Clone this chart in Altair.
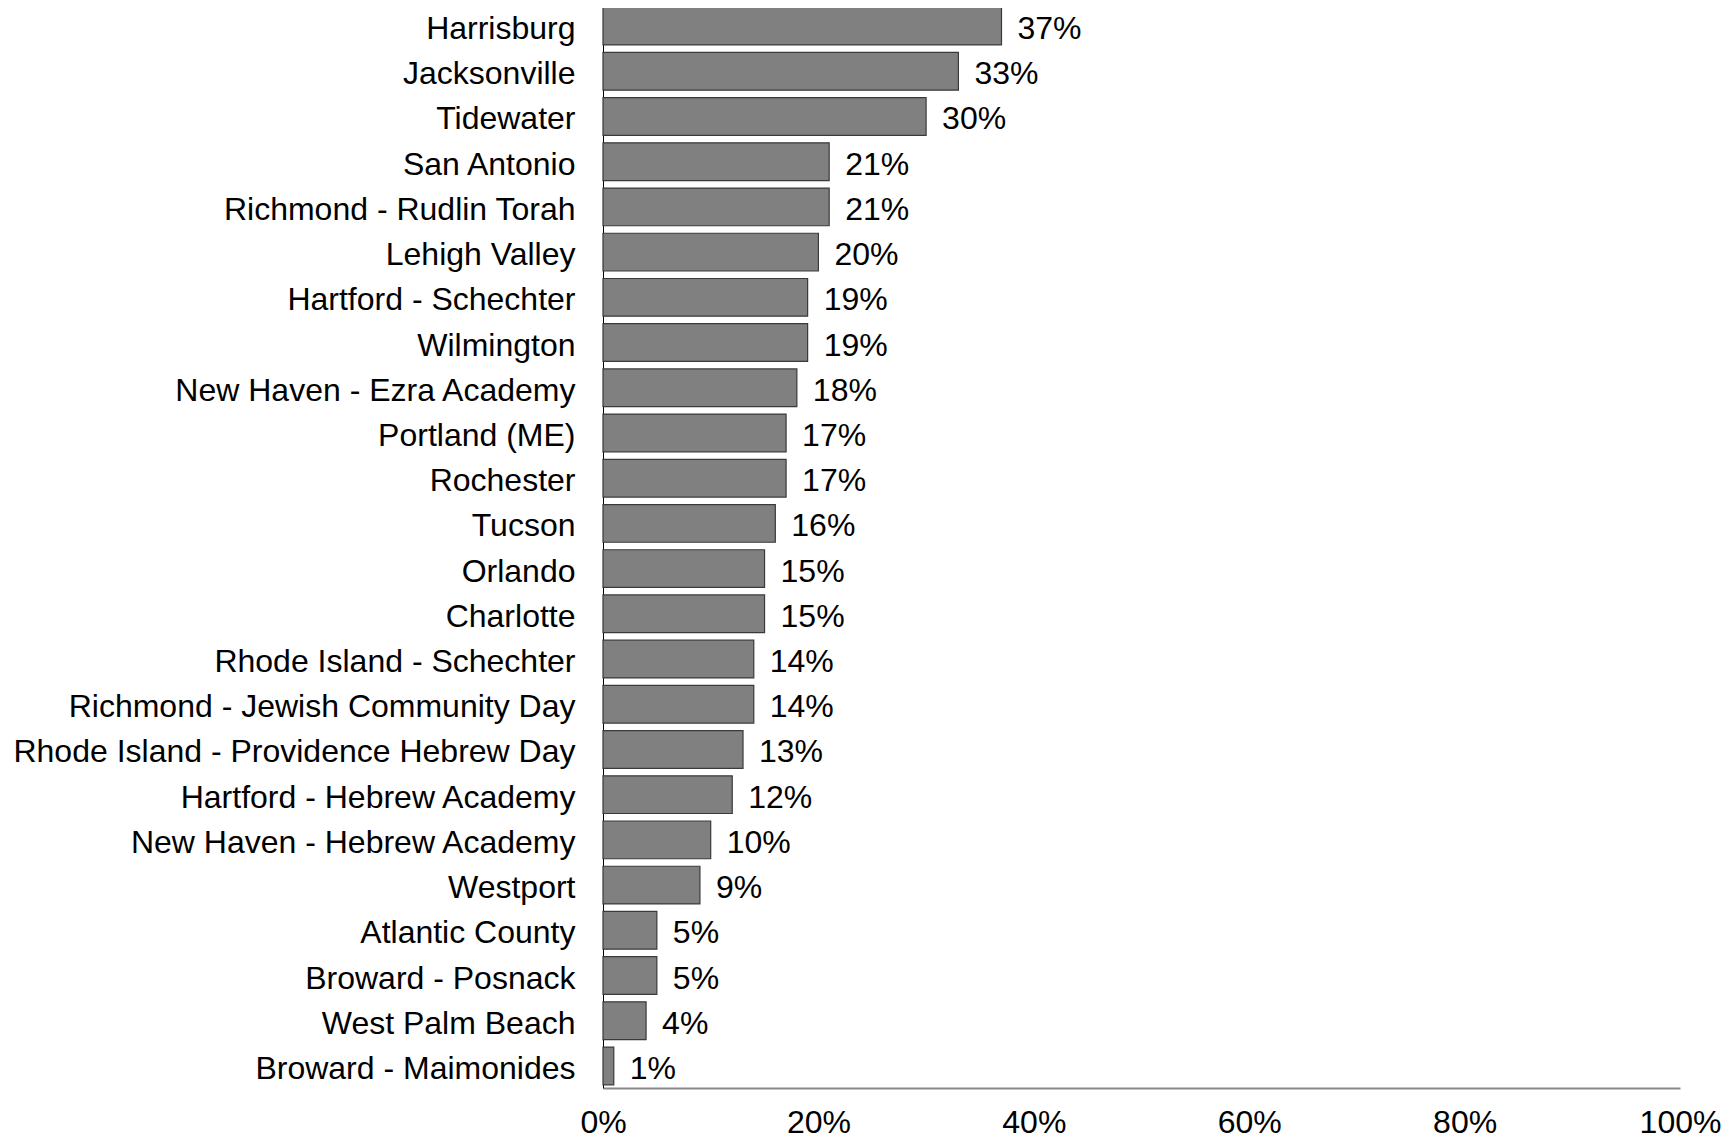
import altair as alt
import pandas as pd

schools = [
    "Harrisburg", "Jacksonville", "Tidewater", "San Antonio",
    "Richmond - Rudlin Torah", "Lehigh Valley", "Hartford - Schechter",
    "Wilmington", "New Haven - Ezra Academy", "Portland (ME)", "Rochester",
    "Tucson", "Orlando", "Charlotte", "Rhode Island - Schechter",
    "Richmond - Jewish Community Day", "Rhode Island - Providence Hebrew Day",
    "Hartford - Hebrew Academy", "New Haven - Hebrew Academy", "Westport",
    "Atlantic County", "Broward - Posnack", "West Palm Beach",
    "Broward - Maimonides",
]
shares = [
    0.37, 0.33, 0.30, 0.21, 0.21, 0.20, 0.19, 0.19, 0.18, 0.17, 0.17, 0.16,
    0.15, 0.15, 0.14, 0.14, 0.13, 0.12, 0.10, 0.09, 0.05, 0.05, 0.04, 0.01,
]
x_ticks = [0, 0.2, 0.4, 0.6, 0.8, 1.0]

df = pd.DataFrame({"school": schools, "share": shares})

FONT = "Liberation Sans"

y_enc = alt.Y(
    "school:N",
    sort=None,
    title=None,
    scale=alt.Scale(paddingInner=0.166, paddingOuter=0.071),
    axis=alt.Axis(
        labelFont=FONT, labelFontSize=32, labelColor="#000000",
        labelPadding=28, labelLimit=800, labelOffset=3, ticks=False, tickSize=0,
        domainColor="#000000", domainWidth=1, grid=False,
    ),
)
x_enc = alt.X(
    "share:Q",
    title=None,
    scale=alt.Scale(domain=[0, 1], nice=False),
    axis=alt.Axis(
        values=x_ticks, format=".0%", labelFont=FONT, labelFontSize=32,
        labelColor="#000000", labelPadding=19, ticks=False, tickSize=0,
        domainColor="#888888", domainWidth=2, grid=False, labelFlush=False,
    ),
)

bars = alt.Chart(df).mark_bar(
    color="#808080", stroke="#3a3a3a", strokeWidth=1.2
).encode(x=x_enc, y=y_enc)

labels = alt.Chart(df).mark_text(
    align="left", baseline="middle", dx=16, dy=3, font=FONT, fontSize=32,
    color="#000000",
).encode(
    x="share:Q",
    y=alt.Y("school:N", sort=None),
    text=alt.Text("share:Q", format=".0%"),
)

chart = (
    alt.layer(bars, labels)
    .properties(
        width=1077,
        height=1084,
        background="#ffffff",
        autosize=alt.AutoSizeParams(type="none"),
        padding={"left": 595, "top": -4, "right": 45, "bottom": 50},
    )
    .configure_view(stroke="transparent", strokeWidth=0)
)

chart.save("out.html", embed_options={"renderer": "svg", "actions": False})
